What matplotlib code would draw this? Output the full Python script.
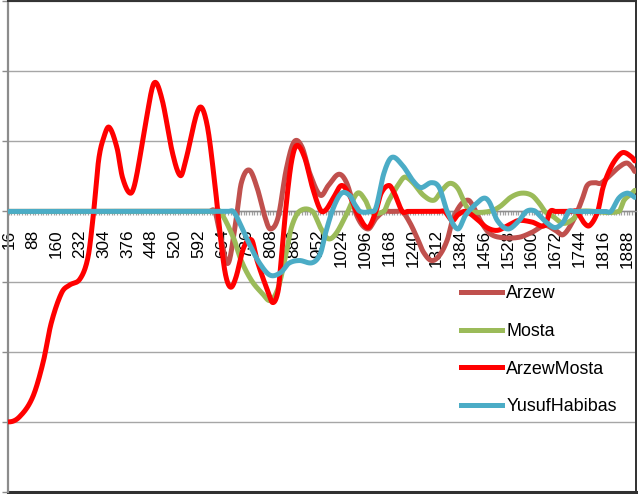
import numpy as np
import matplotlib
matplotlib.use("Agg")
import matplotlib.pyplot as plt
from matplotlib.lines import Line2D

plt.rcParams['font.family'] = ['Liberation Sans', 'DejaVu Sans']

# ---------------- data ----------------
categories = list(range(16, 1913, 8))
tick_labels = [str(c) for c in categories if (c - 16) % 72 == 0]

series_names = ["Arzew", "Mosta", "ArzewMosta", "YusufHabibas"]
series_colors = ["#C0504D", "#9BBB59", "#FF0000", "#4BACC6"]

arzew_cat = [16, 624, 640, 656, 680, 704, 720, 744, 768, 792, 808, 832, 856, 880, 904, 928,
             960, 984, 1016, 1040, 1072, 1104, 1128, 1152, 1168, 1192, 1208, 1232, 1256, 1272,
             1296, 1320, 1344, 1360, 1384, 1408, 1424, 1448, 1472, 1504, 1560, 1600, 1640, 1672,
             1696, 1728, 1752, 1768, 1792, 1808, 1832, 1864, 1888, 1904, 1912]
arzew_val = [0, 0, 0, -0.32, -0.74, -0.13, 0.40, 0.59, 0.34, -0.08, -0.25, -0.08, 0.59, 0.99,
             0.92, 0.54, 0.23, 0.37, 0.53, 0.40, -0.08, -0.25, -0.10, 0.0, 0.0, 0.0, 0.0, -0.17,
             -0.41, -0.58, -0.70, -0.63, -0.41, -0.13, 0.09, 0.16, 0.06, -0.16, -0.31, -0.37,
             -0.37, -0.30, -0.20, -0.27, -0.33, -0.11, 0.16, 0.37, 0.41, 0.40, 0.49, 0.63, 0.69,
             0.63, 0.57]

mosta_cat = [16, 640, 656, 696, 720, 752, 784, 808, 832, 856, 872, 896, 936, 960, 984, 1008,
             1040, 1072, 1096, 1112, 1152, 1168, 1200, 1216, 1240, 1272, 1304, 1328, 1352, 1376,
             1400, 1416, 1472, 1504, 1536, 1568, 1600, 1624, 1640, 1664, 1696, 1728, 1744, 1864,
             1880, 1904, 1912]
mosta_val = [0, 0, 0, -0.37, -0.70, -0.99, -1.17, -1.27, -1.09, -0.60, -0.23, 0.0, 0.0, -0.23,
             -0.39, -0.31, -0.03, 0.26, 0.16, 0.0, 0.0, 0.16, 0.41, 0.49, 0.41, 0.23, 0.16, 0.30,
             0.40, 0.33, 0.09, 0.0, 0.0, 0.07, 0.20, 0.26, 0.23, 0.11, 0.0, -0.07, -0.17, -0.10,
             0.0, 0.0, 0.16, 0.26, 0.30]

arzewmosta_cat = [16, 48, 88, 120, 144, 176, 200, 232, 256, 272, 288, 304, 320, 344, 360, 384,
                  400, 432, 456, 480, 512, 536, 552, 592, 616, 640, 656, 672, 688, 704, 728, 752,
                  768, 800, 816, 832, 840, 856, 872, 888, 912, 936, 960, 976, 1000, 1024, 1048,
                  1072, 1104, 1128, 1144, 1168, 1184, 1208, 1224, 1320, 1336, 1360, 1376, 1400,
                  1432, 1464, 1496, 1528, 1560, 1600, 1640, 1656, 1672, 1720, 1736, 1760, 1776,
                  1800, 1816, 1840, 1864, 1880, 1904, 1912]
arzewmosta_val = [-3.0, -2.93, -2.65, -2.15, -1.60, -1.16, -1.05, -0.96, -0.65, -0.05, 0.73, 1.06,
                  1.20, 0.90, 0.49, 0.26, 0.44, 1.30, 1.83, 1.60, 0.83, 0.51, 0.73, 1.47, 1.25,
                  0.40, -0.32, -0.89, -1.08, -0.94, -0.51, -0.41, -0.70, -1.13, -1.30, -1.13,
                  -0.75, 0.08, 0.70, 0.94, 0.77, 0.34, 0.02, 0.02, 0.20, 0.37, 0.23, -0.03, -0.23,
                  0.0, 0.26, 0.37, 0.26, 0.0, 0.0, 0.0, 0.0, -0.13, -0.05, 0.0, -0.10, -0.23,
                  -0.27, -0.20, -0.13, -0.15, -0.20, 0.0, 0.0, 0.0, 0.0, -0.17, -0.20, 0.0, 0.34,
                  0.63, 0.80, 0.84, 0.77, 0.72]

yusuf_cat = [16, 680, 696, 712, 744, 776, 808, 840, 864, 896, 936, 960, 976, 1000, 1024, 1048,
             1064, 1080, 1112, 1128, 1152, 1176, 1208, 1240, 1264, 1296, 1320, 1344, 1376, 1400,
             1432, 1456, 1472, 1496, 1528, 1560, 1584, 1608, 1624, 1648, 1672, 1696, 1712, 1728,
             1824, 1840, 1864, 1888, 1904, 1912]
yusuf_val = [0, 0, 0, -0.13, -0.46, -0.74, -0.91, -0.87, -0.74, -0.70, -0.73, -0.60, -0.30, 0.06,
             0.26, 0.23, 0.10, 0.0, 0.0, 0.05, 0.54, 0.77, 0.66, 0.44, 0.34, 0.41, 0.34, 0.0,
             -0.25, -0.05, 0.11, 0.19, 0.13, -0.13, -0.25, -0.14, 0.0, 0.01, -0.06, -0.17, -0.23,
             -0.15, 0.0, 0.0, 0.0, 0.0, 0.19, 0.26, 0.23, 0.20]

series_cats = [arzew_cat, mosta_cat, arzewmosta_cat, yusuf_cat]
series_vals = [arzew_val, mosta_val, arzewmosta_val, yusuf_val]


def to_index(c):
    return (np.asarray(c, float) - categories[0]) / (categories[1] - categories[0])


def smooth(xc, yc, n=24):
    """Smoothed line (cubic Hermite / cardinal spline) through the points."""
    x = np.asarray(xc, float)
    y = np.asarray(yc, float)
    m = np.zeros_like(y)
    m[1:-1] = (y[2:] - y[:-2]) / (x[2:] - x[:-2])
    m[0] = 0.0
    m[-1] = (y[-1] - y[-2]) / (x[-1] - x[-2])
    xs, ys = [], []
    t = np.linspace(0, 1, n, endpoint=False)
    h00 = 2 * t**3 - 3 * t**2 + 1
    h10 = t**3 - 2 * t**2 + t
    h01 = -2 * t**3 + 3 * t**2
    h11 = t**3 - t**2
    for i in range(len(x) - 1):
        h = x[i + 1] - x[i]
        xs.append(x[i] + t * h)
        ys.append(h00 * y[i] + h10 * h * m[i] + h01 * y[i + 1] + h11 * h * m[i + 1])
    xs.append([x[-1]])
    ys.append([y[-1]])
    return np.concatenate(xs), np.concatenate(ys)


# ---------------- figure ----------------
W, H = 638, 494
fig = plt.figure(figsize=(W / 100, H / 100), dpi=100)
ax = fig.add_axes([7.5 / W, 1 - 492 / H, 628.5 / W, 491 / H])

ax.set_xlim(-0.5, len(categories) - 0.5)
ax.set_ylim(-4, 3)

# grid
ax.set_yticks(range(-4, 4))
ax.yaxis.grid(True, color="#a6a6a6", linewidth=1.0)
ax.set_axisbelow(True)
ax.tick_params(axis="y", which="major", direction="out", length=4.5, width=1.0,
               color="#8c8c8c", labelleft=False)

# category axis at zero
ax.spines["bottom"].set_position(("data", 0))
ax.spines["bottom"].set_color("#8c8c8c")
ax.spines["bottom"].set_linewidth(1.0)
ax.spines["left"].set_color("#8c8c8c")
ax.spines["left"].set_linewidth(1.6)
for s in ("top", "right"):
    ax.spines[s].set_color("#303030")
    ax.spines[s].set_linewidth(1.4)
ax.plot([0, 1], [0, 0], transform=ax.transAxes, color="#303030", lw=2.2, clip_on=False)

idx_all = to_index(categories)
major_idx = [i for i, c in enumerate(categories) if (c - 16) % 72 == 0]
ax.set_xticks(major_idx)
ax.set_xticklabels(tick_labels, rotation=90, fontsize=12.3)
ax.set_xticks(idx_all, minor=True)
ax.tick_params(axis="x", which="both", direction="out", length=3.0, width=0.9,
               color="#a0a0a0", pad=10)

handles = []
for name, col, cc, vv in zip(series_names, series_colors, series_cats, series_vals):
    xs, ys = smooth(to_index(cc), vv)
    ax.plot(xs, ys, color=col, lw=3.6, solid_capstyle="round", solid_joinstyle="round",
            zorder=3)
    handles.append(Line2D([0], [0], color=col, lw=3.6, label=name))

ax.legend(handles=handles, loc="upper left",
          bbox_to_anchor=(461 / W, 1 - 285 / H), bbox_transform=fig.transFigure,
          frameon=False, fontsize=12.9, handlelength=2.3, handletextpad=0.22,
          labelspacing=1.16, borderpad=0, borderaxespad=0)

fig.savefig("out.png", dpi=100)
